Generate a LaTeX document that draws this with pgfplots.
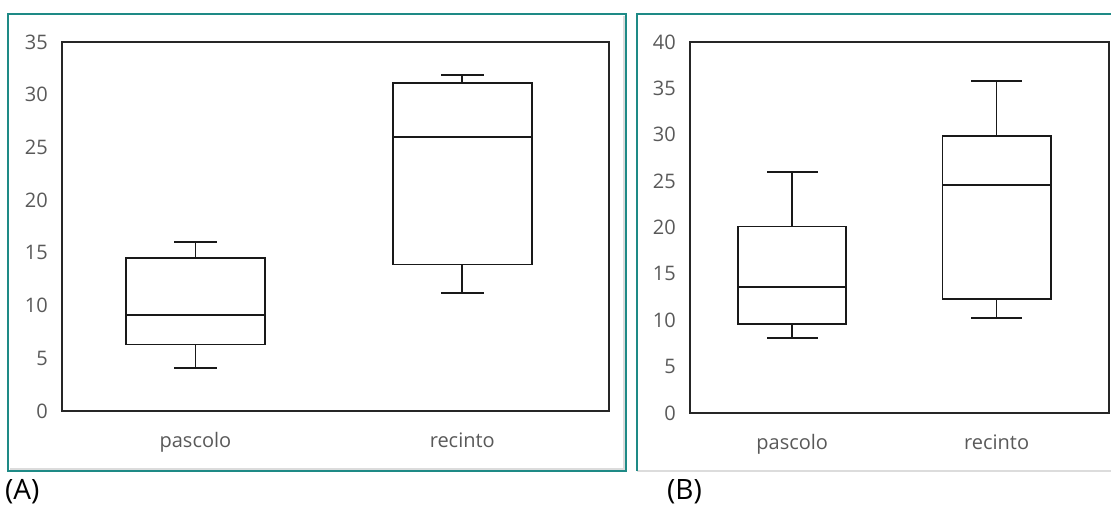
\documentclass[border=0pt]{standalone}
\usepackage{fontspec}
\setmainfont{Open Sans}
\usepackage{pgfplots}
\pgfplotsset{compat=1.18}
\definecolor{frameteal}{HTML}{1E8A86}
\definecolor{ticklab}{HTML}{595959}
\definecolor{lightrule}{HTML}{DCDCDC}

\pgfplotsset{
  panel/.style={
    scale only axis,
    axis line style={line width=1.8pt, black!85},
    xmin=0.5, xmax=2.55,
    ymin=0,
    xtick={1,2},
    xticklabels={pascolo,recinto},
    major tick length=0pt,
    /pgf/number format/assume math mode=true,
    ticklabel style={font=\fontsize{20}{23}\selectfont, text=ticklab},
    yticklabel style={inner sep=0pt, anchor=east, xshift=-14pt},
    xticklabel style={inner sep=0pt, anchor=base, yshift=-37pt},
  },
  bx/.style={black!90, line width=1.8pt, solid, mark=none, line cap=rect, line join=miter},
}

\begin{document}
\begin{tikzpicture}
\useasboundingbox (0pt,0pt) rectangle (1111pt,505pt);

% panel frames
\draw[lightrule, line width=1.2pt] (10pt,36pt) -- (624pt,36pt) -- (624pt,489pt);
\draw[frameteal, line width=1.8pt] (8pt,34pt) rectangle (626pt,491pt);
\draw[lightrule, line width=1.5pt] (637pt,34pt) -- (1111pt,34pt);
\draw[frameteal, line width=1.8pt] (637pt,34pt) -- (637pt,491pt) -- (1111pt,491pt);

% (A)  pascolo: 4.1 / 6.3 / 9.1 / 14.5 / 16.0   recinto: 11.2 / 13.9 / 26.0 / 31.1 / 31.9
\begin{axis}[panel, at={(62pt,94pt)}, anchor=south west,
  width=547pt, height=369pt, ymax=35, ytick={0,5,...,35}]
% pascolo
\addplot[bx] coordinates {(0.74,6.3) (1.26,6.3) (1.26,14.5) (0.74,14.5) (0.74,6.3)};
\addplot[bx] coordinates {(0.74,9.1) (1.26,9.1)};
\addplot[bx] coordinates {(1,14.5) (1,16.0)};
\addplot[bx] coordinates {(1,6.3) (1,4.1)};
\addplot[bx] coordinates {(0.9225,16.0) (1.0775,16.0)};
\addplot[bx] coordinates {(0.9225,4.1) (1.0775,4.1)};
% recinto
\addplot[bx] coordinates {(1.74,13.9) (2.26,13.9) (2.26,31.1) (1.74,31.1) (1.74,13.9)};
\addplot[bx] coordinates {(1.74,26.0) (2.26,26.0)};
\addplot[bx] coordinates {(2,31.1) (2,31.9)};
\addplot[bx] coordinates {(2,13.9) (2,11.2)};
\addplot[bx] coordinates {(1.9225,31.9) (2.0775,31.9)};
\addplot[bx] coordinates {(1.9225,11.2) (2.0775,11.2)};
\end{axis}

% (B)  pascolo: 8.1 / 9.6 / 13.6 / 20.1 / 26.0   recinto: 10.2 / 12.3 / 24.6 / 29.9 / 35.8
\begin{axis}[panel, at={(690pt,92pt)}, anchor=south west,
  width=419pt, height=371pt, ymax=40, ytick={0,5,...,40}]
% pascolo
\addplot[bx] coordinates {(0.735,9.6) (1.265,9.6) (1.265,20.1) (0.735,20.1) (0.735,9.6)};
\addplot[bx] coordinates {(0.735,13.6) (1.265,13.6)};
\addplot[bx] coordinates {(1,20.1) (1,26.0)};
\addplot[bx] coordinates {(1,9.6) (1,8.1)};
\addplot[bx] coordinates {(0.88,26.0) (1.12,26.0)};
\addplot[bx] coordinates {(0.88,8.1) (1.12,8.1)};
% recinto
\addplot[bx] coordinates {(1.735,12.3) (2.265,12.3) (2.265,29.9) (1.735,29.9) (1.735,12.3)};
\addplot[bx] coordinates {(1.735,24.6) (2.265,24.6)};
\addplot[bx] coordinates {(2,29.9) (2,35.8)};
\addplot[bx] coordinates {(2,12.3) (2,10.2)};
\addplot[bx] coordinates {(1.88,35.8) (2.12,35.8)};
\addplot[bx] coordinates {(1.88,10.2) (2.12,10.2)};
\end{axis}

\node[anchor=base west, inner sep=0pt, font=\fontsize{28}{32}\selectfont] at (5pt,5pt) {(A)};
\node[anchor=base west, inner sep=0pt, font=\fontsize{28}{32}\selectfont] at (667pt,5pt) {(B)};
\end{tikzpicture}
\end{document}
